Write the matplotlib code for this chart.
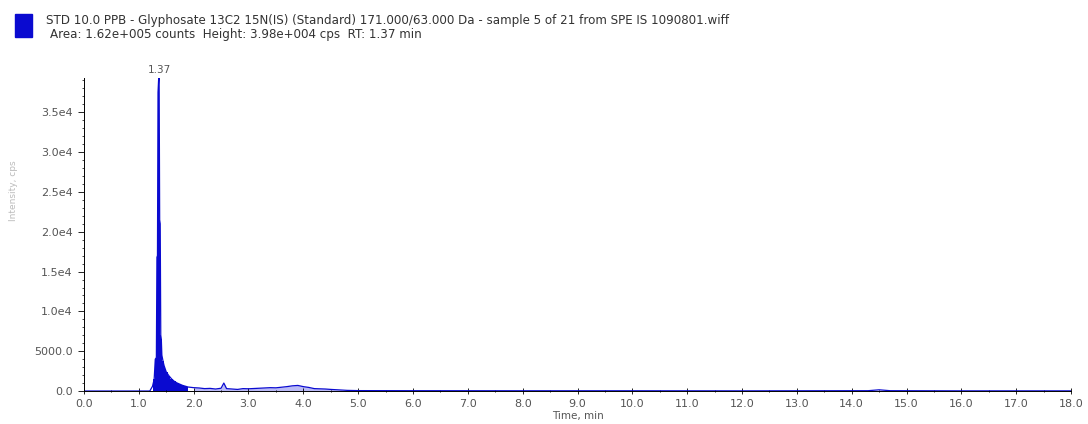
import matplotlib.pyplot as plt
from matplotlib.ticker import MultipleLocator, FuncFormatter
from matplotlib.patches import Rectangle

# chromatogram (time in min, intensity in cps)
times = [0.0, 0.5, 1.0, 1.20, 1.25, 1.28, 1.30, 1.32, 1.33, 1.34, 1.35, 1.36,
         1.37, 1.38, 1.39, 1.40, 1.41, 1.42, 1.44, 1.46, 1.48, 1.50, 1.55,
         1.60, 1.65, 1.70, 1.75, 1.80, 1.85, 1.90, 2.0, 2.1, 2.2, 2.3, 2.4,
         2.5, 2.55, 2.6, 2.7, 2.8, 2.9, 3.0, 3.2, 3.4, 3.5, 3.7, 3.8, 3.9,
         4.0, 4.1, 4.2, 4.4, 4.5, 4.7, 4.8, 5.0, 6.0, 8.0, 10.0, 12.0, 14.3,
         14.5, 14.7, 16.0, 18.0]
intensity = [0, 0, 0, 0, 600, 1500, 4000, 4200, 16800, 17000, 37500, 39000,
             39800, 21500, 21000, 7000, 6500, 4500, 3800, 3200, 2800, 2400, 1900,
             1500, 1200, 1000, 850, 700, 600, 500, 420, 380, 300, 330, 250,
             350, 1000, 300, 250, 200, 300, 280, 350, 420, 400, 550, 650, 700,
             550, 450, 300, 250, 200, 120, 80, 50, 40, 30, 30, 20, 40, 150,
             40, 20, 20]
peak_start, peak_end = 1.25, 1.92
base_end = 4.7
peak_rt = 1.37

title1 = "STD 10.0 PPB - Glyphosate 13C2 15N(IS) (Standard) 171.000/63.000 Da - sample 5 of 21 from SPE IS 1090801.wiff"
title2 = "Area: 1.62e+005 counts  Height: 3.98e+004 cps  RT: 1.37 min"

blue = "#0a0ad0"
light = "#8c8cf0"
grey = "#555555"

fig = plt.figure(figsize=(10.88, 4.24), dpi=100)
ax = fig.add_axes([0.0772, 0.0778, 0.9072, 0.738])

ax.plot(times, intensity, color=blue, lw=0.9)
pk_t = [t for t in times if peak_start <= t <= peak_end]
pk_i = [v for t, v in zip(times, intensity) if peak_start <= t <= peak_end]
ax.fill_between(pk_t, pk_i, step="mid", color=blue, lw=0)
bs_t = [t for t in times if peak_end <= t <= base_end]
bs_i = [v for t, v in zip(times, intensity) if peak_end <= t <= base_end]
ax.fill_between(bs_t, bs_i, color=light, alpha=0.6, lw=0)
ax.text(peak_rt, 39700, "1.37", ha="center", va="bottom", fontsize=7.5,
        color=grey)

ax.set_xlim(0, 18)
ax.set_ylim(0, 39300)
ax.xaxis.set_major_locator(MultipleLocator(1))
ax.xaxis.set_minor_locator(MultipleLocator(0.5))
ax.yaxis.set_major_locator(MultipleLocator(5000))
ax.yaxis.set_minor_locator(MultipleLocator(1000))
ax.xaxis.set_major_formatter(FuncFormatter(lambda v, p: f"{v:.1f}"))
ax.yaxis.set_major_formatter(
    FuncFormatter(lambda v, p: f"{v:.1f}" if v < 10000 else f"{v/1e4:.1f}e4"))
ax.tick_params(labelsize=8, labelcolor=grey, width=0.6)
ax.tick_params(axis="x", which="both", direction="inout", length=4)
ax.tick_params(axis="x", which="minor", length=2)
ax.tick_params(axis="y", which="major", length=4, pad=4)
ax.tick_params(axis="y", which="minor", length=1.5, width=0.5)
for s in ["top", "right"]:
    ax.spines[s].set_visible(False)
for s in ["left", "bottom"]:
    ax.spines[s].set_linewidth(0.7)
ax.set_xlabel("Time, min", fontsize=7.5, color=grey, labelpad=2)
fig.text(0.012, 0.55, "Intensity, cps", rotation=90, fontsize=6.5,
         color="#bbbbbb", ha="center", va="center")

fig.patches.append(Rectangle((0.0138, 0.9127), 0.0156, 0.054, color=blue,
                             transform=fig.transFigure))
fig.text(0.0423, 0.9505, title1, fontsize=8.6, color="#333333", va="center")
fig.text(0.046, 0.9198, title2, fontsize=8.6, color="#333333", va="center")

fig.savefig("out.png", dpi=100)
